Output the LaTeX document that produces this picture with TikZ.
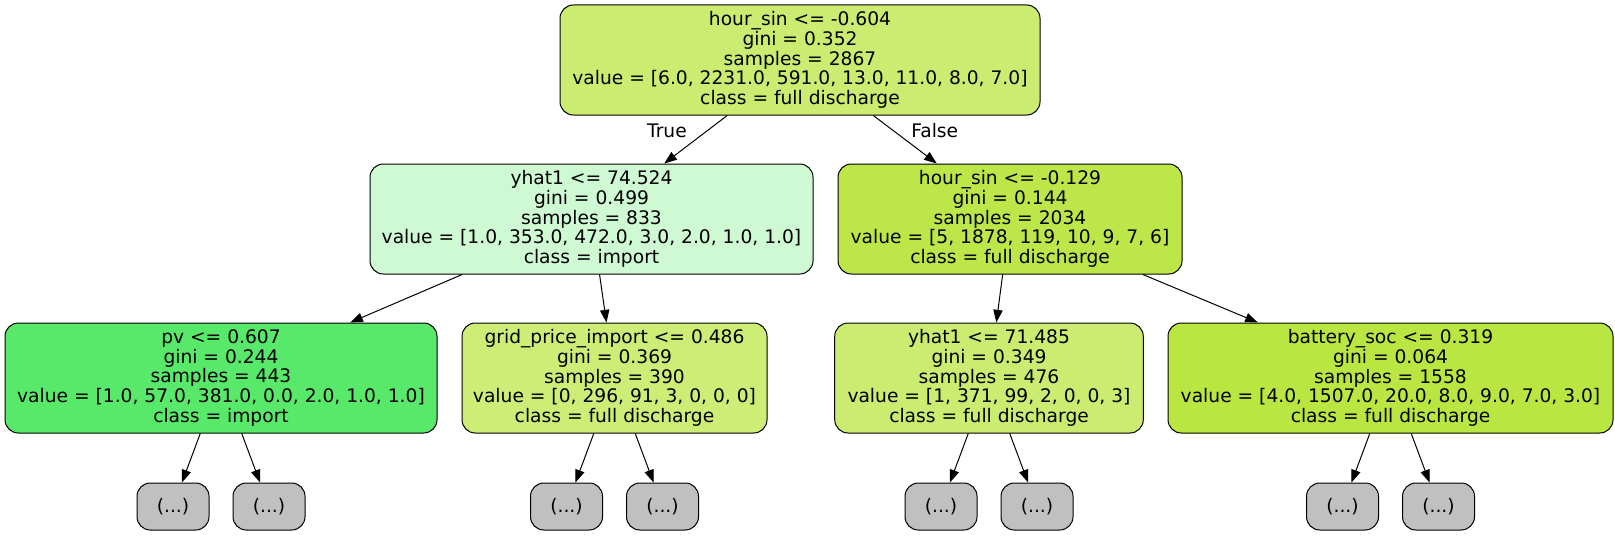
\documentclass[tikz,border=0pt]{standalone}
\usepackage{fontspec}
\setmainfont{DejaVu Sans}
\usetikzlibrary{positioning,arrows.meta}
\definecolor{fullA}{HTML}{CBEC70}
\definecolor{importA}{HTML}{CEF9D3}
\definecolor{fullB}{HTML}{BDE749}
\definecolor{importB}{HTML}{59E96A}
\definecolor{fullC}{HTML}{CEED77}
\definecolor{fullD}{HTML}{CBEC70}
\definecolor{fullE}{HTML}{B9E640}
\definecolor{leafgray}{HTML}{C0C0C0}

\begin{document}
\begin{tikzpicture}[x=0.75pt,y=-0.75pt,
	split/.style={
		draw,
		rectangle, rounded corners=10pt,
		line width=0.75pt,
		minimum height=82.5pt,
		inner sep=0pt,
		align=center,
		font=\fontsize{14pt}{14.7pt}\selectfont
	},
	leaf/.style={
		split,
		fill=leafgray,
		minimum width=54pt, minimum height=35.25pt
	},
	branch/.style={
		-{Triangle[length=9.5pt,width=7pt]},
		line width=0.75pt
	}
	]
	\useasboundingbox (0,0) rectangle (1615,535);
	\node[split,fill=fullA,minimum width=360pt] at (800,60)
	(root) {hour\_sin <= -0.604\\gini = 0.352\\samples = 2867\\value = [6.0, 2231.0, 591.0, 13.0, 11.0, 8.0, 7.0]\\class = full discharge};
	\node[split,fill=importA,minimum width=332.25pt] at (591.5,219)
	(yhata) {yhat1 <= 74.524\\gini = 0.499\\samples = 833\\value = [1.0, 353.0, 472.0, 3.0, 2.0, 1.0, 1.0]\\class = import};
	\node[split,fill=fullB,minimum width=258pt] at (1010,219)
	(hour) {hour\_sin <= -0.129\\gini = 0.144\\samples = 2034\\value = [5, 1878, 119, 10, 9, 7, 6]\\class = full discharge};
	\node[split,fill=importB,minimum width=324pt] at (221,378)
	(pv) {pv <= 0.607\\gini = 0.244\\samples = 443\\value = [1.0, 57.0, 381.0, 0.0, 2.0, 1.0, 1.0]\\class = import};
	\node[split,fill=fullC,minimum width=228.75pt] at (614.5,378)
	(grid) {grid\_price\_import <= 0.486\\gini = 0.369\\samples = 390\\value = [0, 296, 91, 3, 0, 0, 0]\\class = full discharge};
	\node[split,fill=fullD,minimum width=231.4pt] at (989,378)
	(yhatb) {yhat1 <= 71.485\\gini = 0.349\\samples = 476\\value = [1, 371, 99, 2, 0, 0, 3]\\class = full discharge};
	\node[split,fill=fullE,minimum width=333.75pt] at (1390.5,378)
	(batt) {battery\_soc <= 0.319\\gini = 0.064\\samples = 1558\\value = [4.0, 1507.0, 20.0, 8.0, 9.0, 7.0, 3.0]\\class = full discharge};
	
	\draw[branch] (root) -- node[pos=0.31,left=12pt,font=\fontsize{14pt}{14pt}\selectfont] {True} (yhata);
	\draw[branch] (root) -- node[pos=0.31,right=10pt,font=\fontsize{14pt}{14pt}\selectfont] {False} (hour);
	\draw[branch] (yhata) -- (pv);
	\draw[branch] (yhata) -- (grid);
	\draw[branch] (hour) -- (yhatb);
	\draw[branch] (hour) -- (batt);
	
	% truncated subtrees
	\foreach \p in {pv,grid,yhatb,batt}{
		\node[leaf,below=36.75pt of \p,xshift=-36pt] (\p-l) {(...)};
		\node[leaf,below=36.75pt of \p,xshift=36pt] (\p-r) {(...)};
		\draw[branch] (\p) -- (\p-l);
		\draw[branch] (\p) -- (\p-r);
	}
\end{tikzpicture}
\end{document}
